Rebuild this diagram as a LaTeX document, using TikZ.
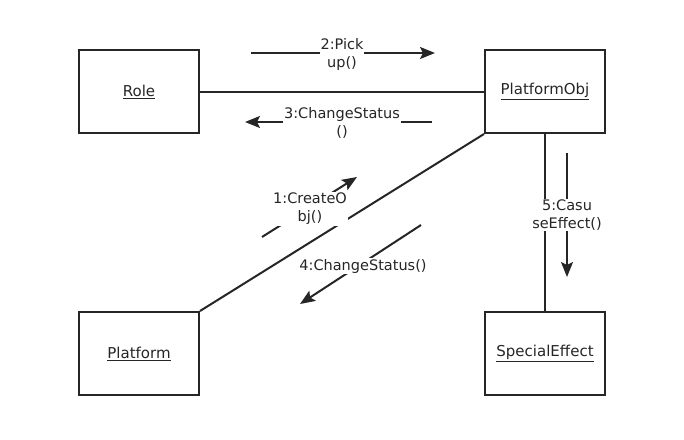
\documentclass[tikz,border=0pt]{standalone}
\usepackage{fontspec}
\setmainfont{DejaVu Sans}
\usetikzlibrary{arrows.meta}

\begin{document}
\begin{tikzpicture}[
    x=1pt, y=-1pt,
    every node/.style={text=black!85},
    objbox/.style={draw=black!85, line width=2pt, minimum width=120pt, minimum height=83pt,
        inner sep=0pt, font=\fontsize{15}{18}\selectfont},
    link/.style={line width=2pt, draw=black!85},
    msg/.style={line width=2pt, draw=black!85, -{Stealth[length=15pt,width=12pt,inset=3pt]}},
    msglabel/.style={fill=white, align=center, inner sep=1pt, font=\fontsize{14.5}{18}\selectfont}
]
    \useasboundingbox (0,0) rectangle (684,439);

    % ==========================
    % OBJECTS
    % ==========================
    \node[objbox] (role)     at (139,91.5)  {\underline{Role}};
    \node[objbox] (platobj)  at (545,91.5)  {\underline{PlatformObj}};
    \node[objbox] (platform) at (139,353.5) {\underline{Platform}};
    \node[objbox] (effect)   at (545,353.5) {\underline{SpecialEffect}};

    % ==========================
    % LINKS
    % ==========================
    \draw[link] (role.east) -- (platobj.west);
    \draw[link] (platobj.south west) -- (platform.north east);
    \draw[link] (platobj.south) -- (effect.north);

    % ==========================
    % MESSAGES
    % ==========================
    \foreach \m/\sx/\sy/\ex/\ey in {
        2/251/53/435/53,
        3/432/122/245/122,
        1/262/237/357/177,
        4/421/225/300/304,
        5/567/153/567/277}
    {
        \coordinate (m\m s) at (\sx,\sy);
        \coordinate (m\m e) at (\ex,\ey);
        \draw[msg] (m\m s) -- (m\m e);
    }

    % Labels go last so the white fill hides the lines below
    \node[msglabel] (l2) at (342,54)  {2:Pick\\up()};
    \node[msglabel] (l3) at (342,123) {3:ChangeStatus\\()};
    \node[msglabel] (l1) at (310,209) {1:CreateO\\bj()};
    \node[msglabel] (l4) at (363,266) {4:ChangeStatus()};
    \node[msglabel] (l5) at (567,215) {5:Casu\\seEffect()};

\end{tikzpicture}
\end{document}
